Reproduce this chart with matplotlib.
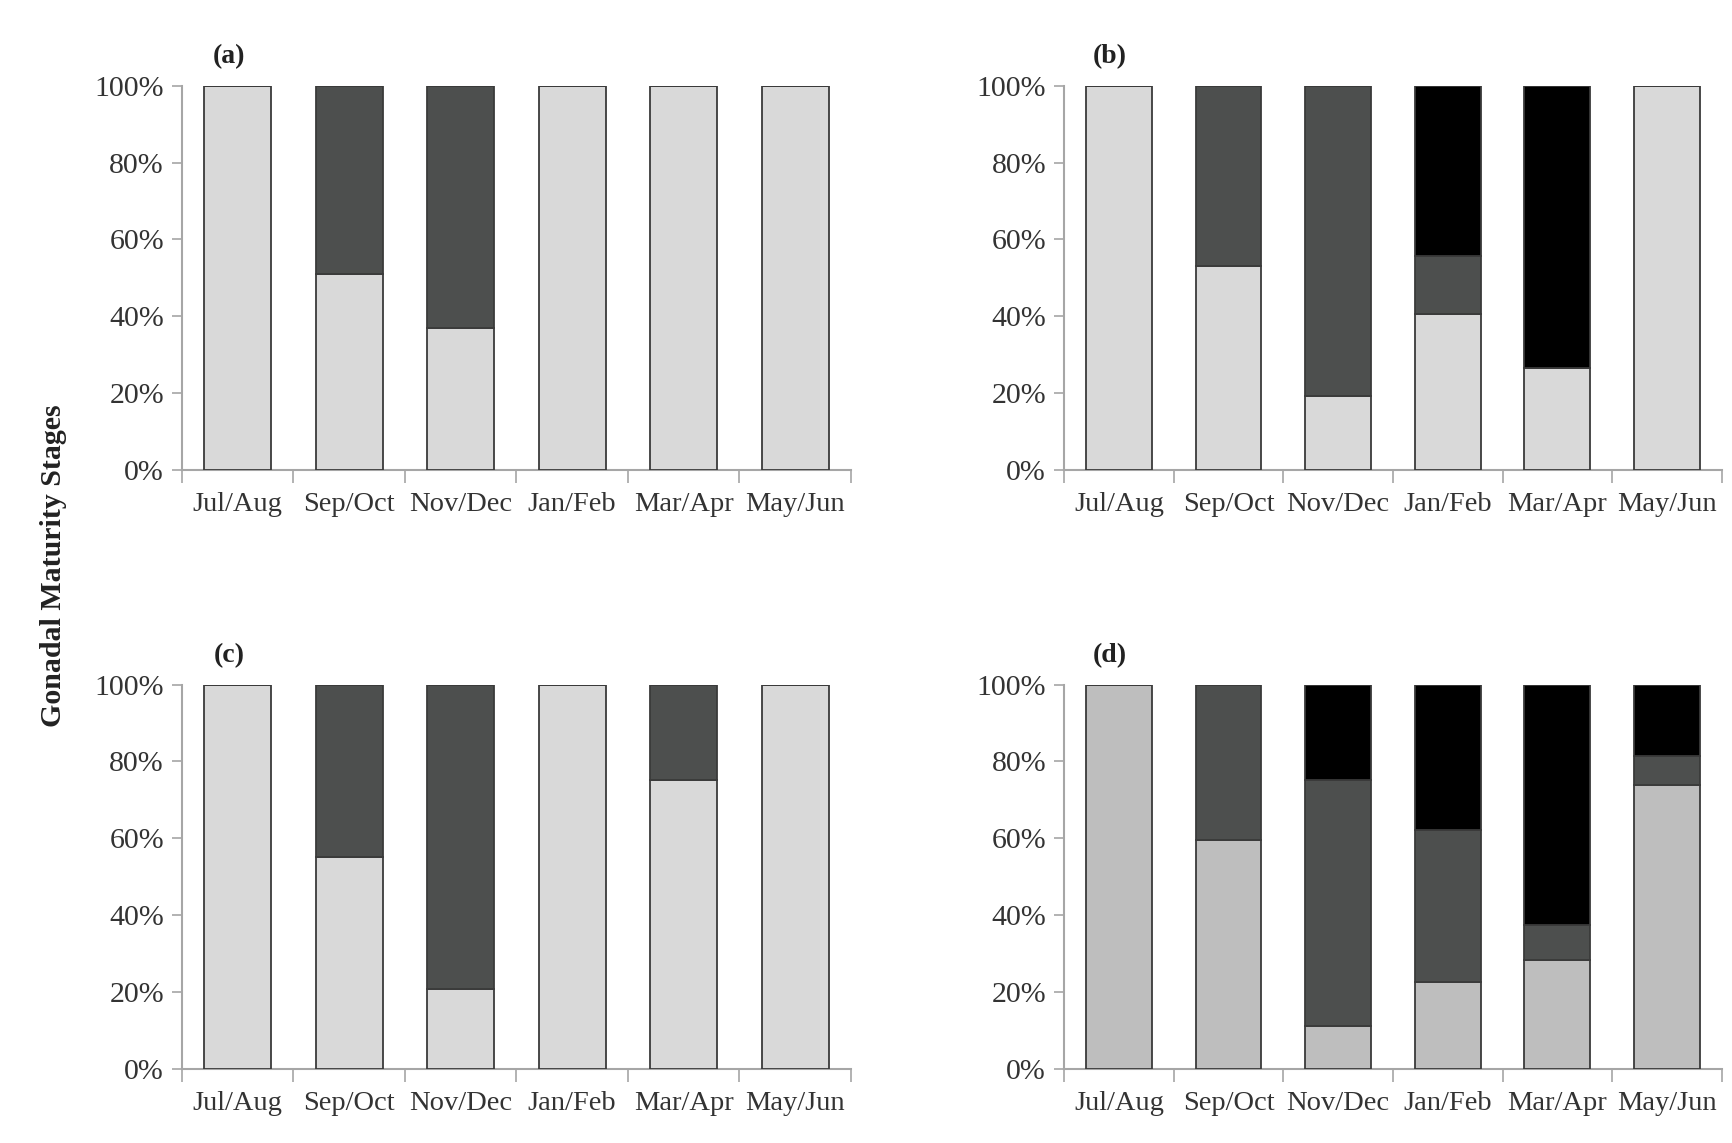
import numpy as np
import matplotlib
matplotlib.use("Agg")
import matplotlib.pyplot as plt

months = ["Jul/Aug", "Sep/Oct", "Nov/Dec", "Jan/Feb", "Mar/Apr", "May/Jun"]

# percent of individuals in each stage (bottom -> top)
a_stage1 = [100, 51, 37, 100, 100, 100]
a_stage2 = [0, 49, 63, 0, 0, 0]
a_stage3 = [0, 0, 0, 0, 0, 0]

b_stage1 = [100, 53, 19.2, 40.5, 26.4, 100]
b_stage2 = [0, 47, 80.8, 15.2, 0, 0]
b_stage3 = [0, 0, 0, 44.3, 73.6, 0]

c_stage1 = [100, 55, 20.8, 100, 75.3, 100]
c_stage2 = [0, 45, 79.2, 0, 24.7, 0]
c_stage3 = [0, 0, 0, 0, 0, 0]

d_stage1 = [100, 59.5, 11.0, 22.6, 28.4, 74.0]
d_stage2 = [0, 40.5, 64.1, 39.6, 8.9, 7.4]
d_stage3 = [0, 0, 24.9, 37.8, 62.7, 18.6]

panels = [
    ("(a)", a_stage1, a_stage2, a_stage3, "#d9d9d9"),
    ("(b)", b_stage1, b_stage2, b_stage3, "#d9d9d9"),
    ("(c)", c_stage1, c_stage2, c_stage3, "#d9d9d9"),
    ("(d)", d_stage1, d_stage2, d_stage3, "#bebebe"),
]

plt.rcParams["font.family"] = ["Liberation Serif", "DejaVu Serif"]

fig = plt.figure(figsize=(17.33, 11.43), dpi=100)
lefts = [0.105, 0.614, 0.105, 0.614]
bottoms = [0.589, 0.589, 0.065, 0.065]
widths = [0.386, 0.3795, 0.386, 0.3795]
h = 0.336

spine_col = "#a6a6a6"
text_col = "#333333"
edge_col = "#3a3a3a"

x = np.arange(len(months))
for k, (lab, s1, s2, s3, light) in enumerate(panels):
    ax = fig.add_axes([lefts[k], bottoms[k], widths[k], h])
    s1 = np.array(s1); s2 = np.array(s2); s3 = np.array(s3)
    kw = dict(width=0.6, edgecolor=edge_col, linewidth=1.3, zorder=3)
    ax.bar(x, s1, color=light, **kw)
    ax.bar(x, s2, bottom=s1, color="#4d4f4e", **kw)
    ax.bar(x, s3, bottom=s1 + s2, color="#000000", **kw)

    ax.set_xlim(-0.5, 5.5)
    ax.set_ylim(0, 100)
    ax.set_yticks(np.arange(0, 101, 20))
    ax.set_yticklabels([f"{v}%" for v in range(0, 101, 20)])
    ax.set_xticks(x)
    ax.set_xticklabels(months)
    ax.set_xticks(np.arange(-0.5, 6, 1), minor=True)
    ax.tick_params(axis="x", which="major", length=0, pad=16,
                   labelsize=20.5, labelcolor=text_col)
    ax.tick_params(axis="x", which="minor", length=9, width=1.2,
                   color=spine_col, direction="out")
    ax.tick_params(axis="y", length=7, width=1.2, color=spine_col,
                   labelsize=21.5, labelcolor=text_col, pad=6)
    for side in ("top", "right"):
        ax.spines[side].set_visible(False)
    for side in ("left", "bottom"):
        ax.spines[side].set_color(spine_col)
        ax.spines[side].set_linewidth(1.5)
    ax.text(0.07, 1.075, lab, transform=ax.transAxes, fontsize=20,
            fontweight="bold", ha="center", va="center", color="#222222")

fig.text(0.031, 0.505, "Gonadal Maturity Stages", rotation=90, fontsize=21.5,
         fontweight="bold", ha="center", va="center", color="#222222")

fig.savefig("out.png", dpi=100, facecolor="white")
